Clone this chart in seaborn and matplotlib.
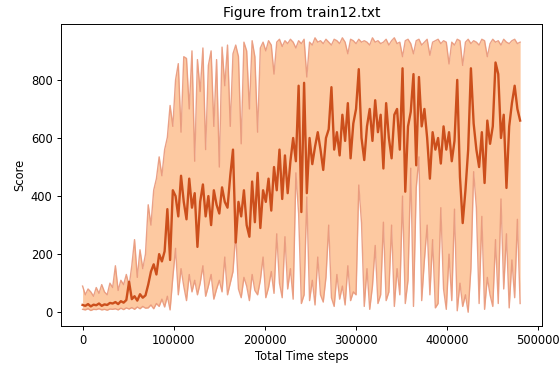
import numpy as np
import pandas as pd
import matplotlib
matplotlib.use("Agg")
import matplotlib.pyplot as plt
import seaborn as sns

# Total time steps (one sample every 3000 steps)
steps = list(range(0, 480001, 3000))

score_mean = [
    25, 22, 28, 20, 26, 24, 30, 22, 27, 25,
    32, 30, 35, 28, 38, 33, 42, 105, 45, 55,
    40, 62, 50, 58, 95, 140, 165, 130, 200, 175,
    210, 355, 180, 420, 400, 330, 470, 380, 320, 460,
    360, 410, 225, 380, 440, 330, 400, 300, 420, 370,
    340, 430, 380, 360, 470, 560, 240, 380, 330, 420,
    300, 260, 450, 310, 480, 290, 420, 380, 460, 350,
    500, 420, 560, 390, 540, 410, 520, 600, 520, 780,
    345, 790, 410, 600, 510, 570, 620, 560, 490, 600,
    630, 775, 560, 620, 540, 680, 590, 720, 530, 650,
    700, 837, 600, 524, 640, 700, 590, 730, 620, 680,
    495, 720, 600, 530, 680, 700, 560, 840, 415, 640,
    690, 820, 506, 810, 640, 700, 600, 460, 620, 560,
    600, 512, 640, 560, 620, 520, 590, 800, 466, 307,
    420, 560, 840, 650, 560, 500, 620, 445, 660, 580,
    640, 860, 820, 600, 680, 428, 640, 720, 780, 700, 660,
]

score_max = [
    90, 60, 80, 70, 55, 85, 65, 95, 70, 60,
    100, 85, 160, 75, 110, 95, 130, 90, 160, 250,
    120, 215, 150, 200, 370, 300, 420, 460, 535, 470,
    560, 602, 712, 640, 800, 856, 620, 880, 874, 700,
    900, 520, 870, 760, 910, 560, 850, 900, 640, 870,
    500, 913, 780, 920, 640, 890, 920, 880, 580, 930,
    900, 700, 935, 880, 620, 910, 930, 900, 935, 920,
    820, 930, 940, 915, 935, 925, 940, 930, 910, 935,
    925, 940, 810, 930, 920, 945, 930, 935, 925, 940,
    930, 920, 940, 935, 925, 945, 930, 890, 940, 935,
    925, 940, 930, 935, 930, 920, 945, 930, 935, 925,
    930, 940, 920, 935, 945, 925, 930, 880, 935, 940,
    925, 890, 935, 940, 920, 930, 940, 885, 930, 935,
    940, 925, 935, 930, 855, 930, 920, 940, 935, 850,
    930, 940, 925, 935, 930, 920, 940, 935, 880, 925,
    940, 930, 935, 920, 940, 930, 925, 935, 940, 925, 930,
]

score_min = [
    10, 8, 12, 6, 10, 9, 12, 8, 10, 7,
    11, 10, 12, 8, 14, 9, 15, 11, 16, 10,
    18, 12, 20, 14, 15, 25, 12, 30, 20, 45,
    18, 55, 8, 120, 220, 60, 150, 90, 40, 130,
    70, 110, 60, 100, 160, 55, 90, 130, 45, 80,
    110, 70, 190, 60, 100, 140, 273, 80, 50, 120,
    90, 40, 130, 75, 60, 110, 190, 50, 85, 140,
    65, 270, 100, 50, 260, 80, 150, 45, 480, 340,
    30, 60, 397, 40, 110, 25, 190, 60, 35, 120,
    300, 50, 20, 130, 45, 90, 25, 160, 40, 70,
    60, 438, 307, 20, 150, 10, 90, 230, 30, 60,
    310, 40, 70, 300, 20, 150, 60, 400, 30, 110,
    496, 20, 428, 535, 40, 180, 300, 60, 250, 15,
    30, 360, 80, 10, 200, 40, 355, 5, 100, 20,
    60, 0, 150, 484, 360, 30, 330, 10, 120, 60,
    20, 250, 30, 390, 80, 270, 15, 180, 50, 320, 30,
]

df = pd.DataFrame({"steps": steps, "mean": score_mean,
                   "max": score_max, "min": score_min})

fig, ax = plt.subplots(figsize=(5.59, 3.65), dpi=100)
fig.subplots_adjust(left=0.1086, right=0.9696, top=0.934, bottom=0.107)

ax.fill_between(df["steps"], df["min"], df["max"], color="#fdc9a1",
                linewidth=0, zorder=1)
sns.lineplot(data=df, x="steps", y="max", ax=ax, color="#e8977a",
             linewidth=1.0, alpha=0.9, estimator=None, zorder=2)
sns.lineplot(data=df, x="steps", y="min", ax=ax, color="#e8977a",
             linewidth=1.0, alpha=0.9, estimator=None, zorder=2)
sns.lineplot(data=df, x="steps", y="mean", ax=ax, color="#cc4f1c",
             linewidth=1.7, estimator=None, zorder=3)

ax.set_xticks([0, 100000, 200000, 300000, 400000, 500000])
ax.set_yticks([0, 200, 400, 600, 800])
ax.tick_params(labelsize=8.3, length=2.9, width=0.7, pad=2.9)
ax.set_xlabel("Total Time steps", fontsize=8.3, labelpad=2.5)
ax.set_ylabel("Score", fontsize=8.3, labelpad=3.3)
ax.set_title("Figure from train12.txt", fontsize=10, pad=5)
for s in ax.spines.values():
    s.set_linewidth(0.7)
ax.margins(x=0.05, y=0.05)

fig.savefig("out.png", dpi=100)
